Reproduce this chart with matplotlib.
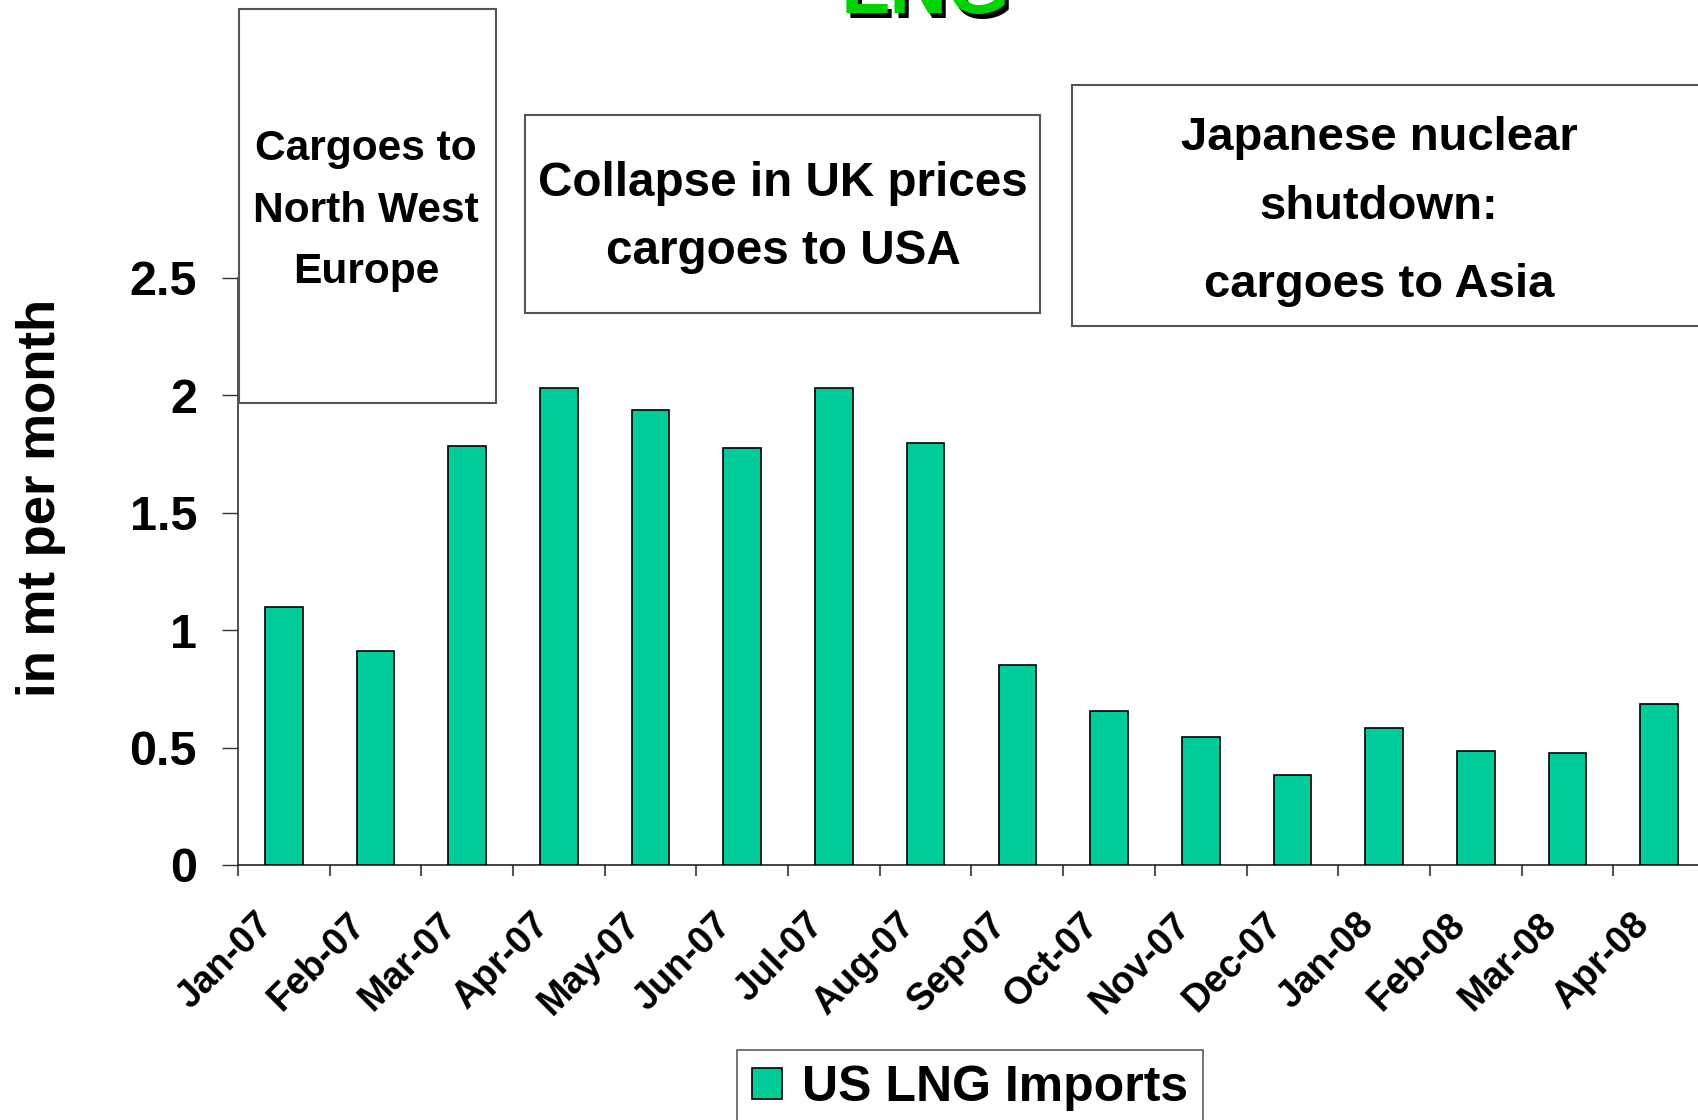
import matplotlib.pyplot as plt
import matplotlib.transforms as mtransforms
from matplotlib.patches import Rectangle

plt.rcParams['font.family'] = ['Liberation Sans', 'DejaVu Sans']
plt.rcParams['font.weight'] = 'bold'

months = ['Jan-07', 'Feb-07', 'Mar-07', 'Apr-07', 'May-07', 'Jun-07', 'Jul-07', 'Aug-07',
          'Sep-07', 'Oct-07', 'Nov-07', 'Dec-07', 'Jan-08', 'Feb-08', 'Mar-08', 'Apr-08']
imports = [1.10, 0.91, 1.785, 2.03, 1.937, 1.776, 2.03, 1.794,
           0.853, 0.655, 0.544, 0.383, 0.581, 0.484, 0.475, 0.683]
yticks = [0, 0.5, 1, 1.5, 2, 2.5]
ytick_labels = ['0', '0.5', '1', '1.5', '2', '2.5']

W, H = 1699, 1120


def fx(px):
    return px / W


def fy(py):
    return 1 - py / H


fig = plt.figure(figsize=(W / 100, H / 100), dpi=100)
ax = fig.add_axes([fx(238), fy(865), fx(1705 - 238), (865 - 277.5) / H])

x = list(range(len(months)))
ax.bar(x, imports, width=0.41, color='#00cc99', edgecolor='black', lw=1.2,
       label='US LNG Imports', zorder=3)

ax.set_xlim(-0.5, len(months) - 0.5)
ax.set_ylim(0, 2.5)
ax.set_yticks(yticks)
ax.set_yticklabels(ytick_labels, fontsize=35, fontweight='bold')
ax.tick_params(axis='y', direction='out', length=11.5, width=1, pad=18, color='#333333')

ax.set_xticks(x)
ax.set_xticklabels(months, fontsize=27, fontweight='bold', rotation=45,
                   ha='right', va='center', rotation_mode='anchor')
ax.tick_params(axis='x', which='major', length=0, pad=39)
ax.set_xticks([i - 0.5 for i in range(len(months) + 1)], minor=True)
ax.tick_params(axis='x', which='minor', direction='out', length=8, width=1.5, color='#555555')
shift = mtransforms.ScaledTranslation(-16 / 100, 0, fig.dpi_scale_trans)
for lab in ax.get_xticklabels():
    lab.set_transform(lab.get_transform() + shift)

for side in ['top', 'right']:
    ax.spines[side].set_visible(False)
ax.spines['left'].set_color('#333333')
ax.spines['bottom'].set_color('#222222')
ax.spines['left'].set_linewidth(1.2)
ax.spines['bottom'].set_linewidth(1.2)

fig.text(fx(41), fy(498), 'in mt per month', rotation=90, fontsize=38,
         fontweight='bold', ha='center', va='center')

# title, mostly cut off at the top (black shadow under green)
fig.text(fx(930), fy(18), 'LNG', fontsize=58, fontweight='bold', color='black',
         ha='center', va='baseline')
fig.text(fx(926), fy(13), 'LNG', fontsize=58, fontweight='bold', color='#00d400',
         ha='center', va='baseline')

# annotation boxes: frame, text x, line y centres
boxes = [
    ((239, 9, 496, 403), 366, [149, 211, 272],
     ['Cargoes to', 'North West', 'Europe'], 30.6),
    ((525, 115, 1040, 313), 783, [184, 251],
     ['Collapse in UK prices', 'cargoes to USA'], 34.3),
    ((1072, 85, 1712, 326), 1379, [138, 207, 285],
     ['Japanese nuclear', 'shutdown:', 'cargoes to Asia'], 34),
]
for (x0, y0, x1, y1), tx, ys, lines, fs in boxes:
    fig.add_artist(Rectangle((fx(x0), fy(y1)), fx(x1 - x0), (y1 - y0) / H,
                             transform=fig.transFigure, facecolor='white',
                             edgecolor='#555555', lw=1.5, zorder=5))
    for ty, line in zip(ys, lines):
        fig.text(fx(tx), fy(ty), line, fontsize=fs, fontweight='bold',
                 ha='center', va='center', zorder=6)

leg = fig.legend(loc='upper center', bbox_to_anchor=(fx(970), fy(1050)),
                 fontsize=36, frameon=True, fancybox=False, handlelength=0.6,
                 handleheight=0.6, handletextpad=0.4, borderpad=0.3,
                 borderaxespad=0)
leg.get_frame().set_edgecolor('#333333')
leg.get_frame().set_linewidth(1.2)
for t in leg.get_texts():
    t.set_fontweight('bold')

fig.savefig('out.png', dpi=100)
